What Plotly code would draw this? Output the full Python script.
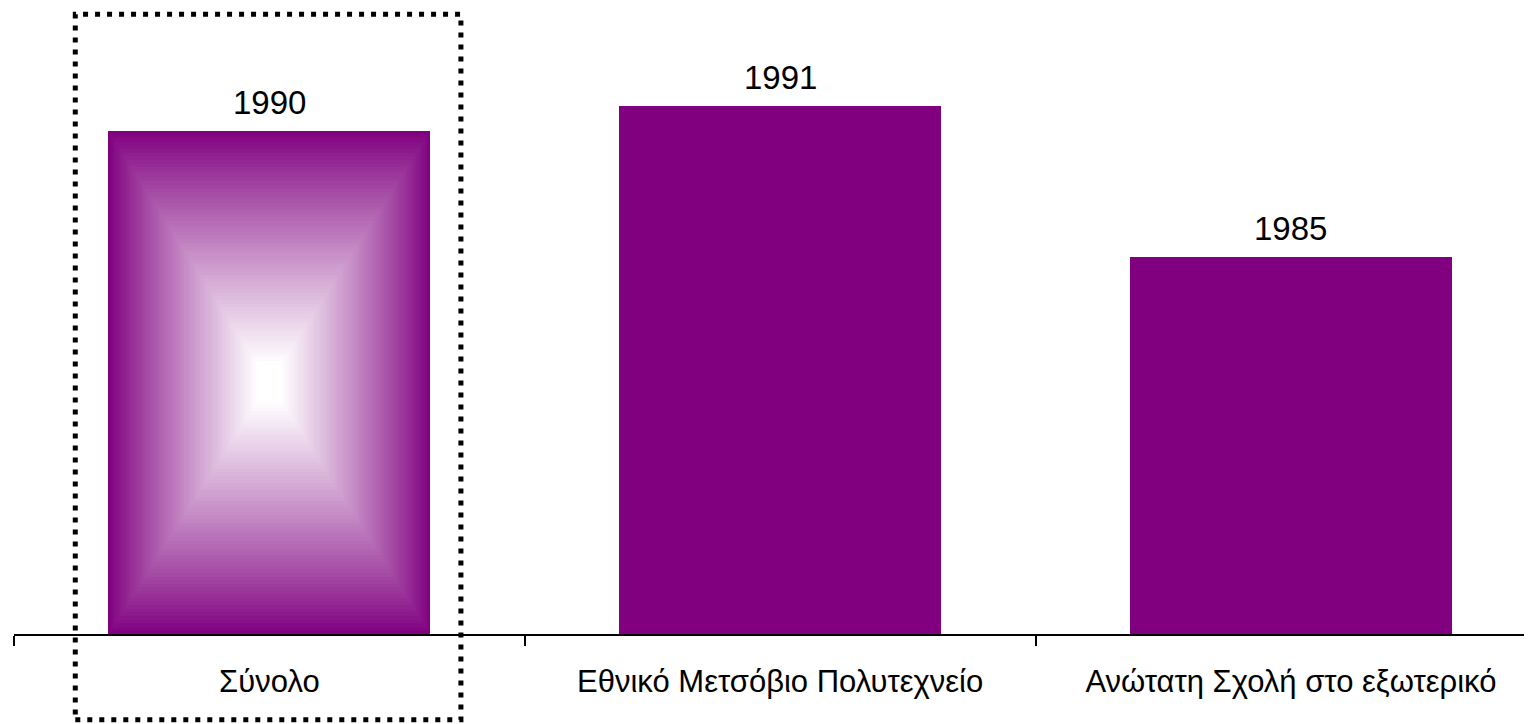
import plotly.graph_objects as go

categories = ["Σύνολο", "Εθνικό Μετσόβιο Πολυτεχνείο", "Ανώτατη Σχολή στο εξωτερικό"]
values = [1990, 1991, 1985]
value_labels = ["1990", "1991", "1985"]

Y_MIN = 1970
Y_MAX = 1994.9
BAR_W = 0.63
PURPLE = (128, 0, 128)
FONT = "Liberation Sans, Arial, sans-serif"

fig = go.Figure()

# solid bars
fig.add_trace(go.Bar(
    x=categories, y=[v - Y_MIN for v in values], base=[Y_MIN] * len(values),
    width=BAR_W, marker=dict(color="rgb(128,0,128)", line=dict(width=0)),
    hoverinfo="skip", showlegend=False,
))

# rectangular gradient on the first bar (concentric overlaid bars)
N = 70
v0 = values[0]
h0 = v0 - Y_MIN
for k in range(1, N):
    t = k / N
    s = min(1.0, t / 0.92) ** 0.9
    c = tuple(int(round(p + (255 - p) * s)) for p in PURPLE)
    fig.add_trace(go.Bar(
        x=[categories[0]], y=[h0 * (1 - t)], base=[Y_MIN + h0 * t / 2],
        width=BAR_W * (1 - t),
        marker=dict(color=f"rgb{c}", line=dict(width=0)),
        hoverinfo="skip", showlegend=False,
    ))

# value labels
for cat, v, lab in zip(categories, values, value_labels):
    fig.add_annotation(x=cat, y=v, text=lab, showarrow=False,
                       yanchor="bottom", yshift=8,
                       font=dict(family=FONT, size=33, color="black"))

# dotted highlight box around first category
fig.add_shape(type="rect", xref="x", yref="paper",
              x0=-0.38, x1=0.375, y0=-0.137, y1=0.99,
              line=dict(color="black", width=5, dash="5px,7px"),
              fillcolor="rgba(0,0,0,0)", layer="above")

fig.update_layout(
    width=1524, height=716,
    margin=dict(l=6, r=0, t=0, b=90),
    barmode="overlay", bargap=0,
    plot_bgcolor="white", paper_bgcolor="white",
    showlegend=False,
    font=dict(family=FONT, size=31, color="black"),
)
fig.update_xaxes(
    range=[-0.5, 2.472], showline=True, linecolor="black", linewidth=2,
    ticks="outside", tickson="boundaries", ticklen=10, tickwidth=2, tickcolor="black",
    tickfont=dict(family=FONT, size=31, color="black"),
    ticklabelstandoff=19, showgrid=False, zeroline=False,
)
fig.update_yaxes(range=[Y_MIN, Y_MAX], visible=False, showgrid=False, zeroline=False)

fig.write_html("out.html")
